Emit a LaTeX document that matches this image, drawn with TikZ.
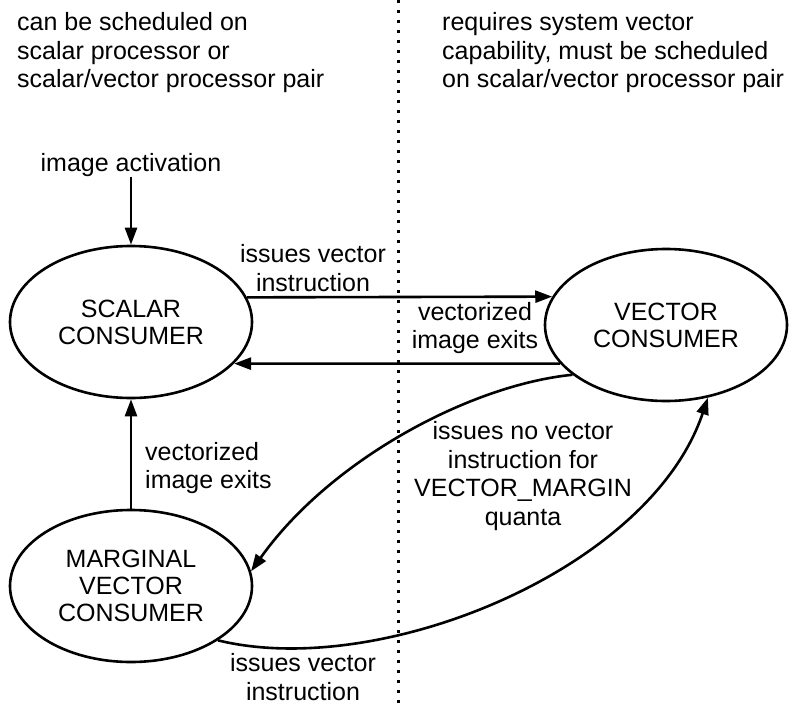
\documentclass[tikz,border=0pt]{standalone}
\usepackage{fontspec}
\setmainfont{Liberation Sans}
\usetikzlibrary{shapes.geometric,arrows.meta}
\begin{document}
\begin{tikzpicture}[x=1pt,y=-1pt,
  txt/.style={inner sep=0pt,font=\fontsize{25}{28.5}\selectfont},
  state/.style={ellipse,draw,line width=2.6pt,minimum width=242pt,minimum height=152pt,inner sep=0pt,align=center,font=\fontsize{25}{27}\selectfont},
  conn/.style={line width=2.6pt,-{Triangle[length=17pt,width=12pt]}}]
\useasboundingbox (0,0) rectangle (797,706);
\draw[line width=3pt,dash pattern=on 3pt off 7pt] (398,0) -- (398,706);
\node[txt,align=left,anchor=west] (lefthead) at (17,53) {can be scheduled on\\scalar processor or\\scalar/vector processor pair};
\node[txt,align=left,anchor=west] (righthead) at (442,53) {requires system vector\\capability, must be scheduled\\on scalar/vector processor pair};
\node[txt] (act) at (131,165) {image activation};
\node[state] (scalar) at (131,322) {SCALAR\\CONSUMER};
\node[state] (vector) at (666,325) {VECTOR\\CONSUMER};
\node[state] (marginal) at (131,586) {MARGINAL\\VECTOR\\CONSUMER};
\draw[conn] (act) -- (scalar);
\draw[conn] (scalar.12) -- (vector.166);
\draw[conn] (vector.200) -- (scalar.-22);
\draw[conn] (marginal) -- (scalar);
\draw[conn] (vector.208) .. controls (470,385) and (330,460) .. (marginal.7);
\draw[conn] (marginal.-32) .. controls (380,680) and (650,570) .. (vector.-60);
\node[txt,align=center] (l1) at (313,268) {issues vector\\instruction};
\node[txt,align=center] (l2) at (475,328) {vectorized\\image exits};
\node[txt,align=left,anchor=west] (l3) at (145,468) {vectorized\\image exits};
\node[txt,align=center] (l4) at (523,476) {issues no vector\\instruction for\\VECTOR\_MARGIN\\quanta};
\node[txt,align=center] (l5) at (303,677) {issues vector\\instruction};
\end{tikzpicture}
\end{document}
